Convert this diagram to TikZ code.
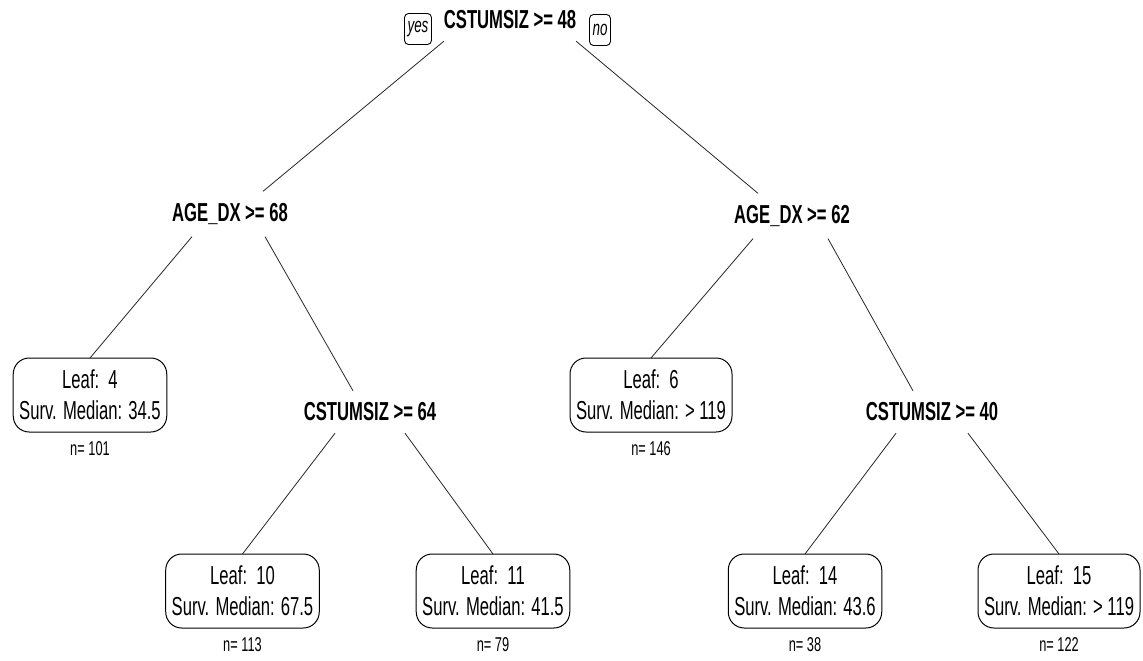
\documentclass[tikz,border=0pt]{standalone}
\usepackage{fontspec}
\setmainfont{Liberation Sans}[FakeStretch=0.64]
\usetikzlibrary{positioning}

\tikzset{
  split/.style={font=\fontsize{26}{29}\selectfont\bfseries, inner xsep=0pt, inner ysep=12pt},
  leaf/.style={draw, line width=1pt, rounded corners=16pt, align=center, inner xsep=6pt,
               minimum height=74pt, font=\fontsize{26}{31}\selectfont},
  count/.style={font=\fontsize{20}{22}\selectfont, inner sep=0pt},
  answer/.style={draw, line width=0.9pt, rounded corners=4pt, inner xsep=3pt, minimum height=31pt,
                 font=\fontsize{21}{22}\selectfont\itshape},
  branch/.style={draw=black!85, line width=0.8pt}
}

\begin{document}
\begin{tikzpicture}[x=1pt, y=-1pt, outer sep=0pt]
  \useasboundingbox (0,0) rectangle (1143,661);
    %
  % splits
  \node[split] (root) at (510, 20) {CSTUMSIZ >= 48};
  \node[answer] (yes) at (418, 29) {yes};
  \node[answer] (no) at (600, 30) {no};
  \node[split] (age1) at (230, 214) {AGE\_DX >= 68};
  \node[split] (age2) at (792, 216) {AGE\_DX >= 62};
  \node[split] (cs64) at (370, 412) {CSTUMSIZ >= 64};
  \node[split] (cs40) at (932, 412) {CSTUMSIZ >= 40};

  % leaves
  \node[leaf] (leaf4)  at (90, 395)    {Leaf:\ \ 4\\Surv. Median: 34.5};
  \node[leaf] (leaf6)  at (651, 395)   {Leaf:\ \ 6\\Surv. Median: > 119};
  \node[leaf] (leaf10) at (242.5, 591) {Leaf:\ \ 10\\Surv. Median: 67.5};
  \node[leaf] (leaf11) at (493, 591)   {Leaf:\ \ 11\\Surv. Median: 41.5};
  \node[leaf] (leaf14) at (805, 591)   {Leaf:\ \ 14\\Surv. Median: 43.6};
  \node[leaf] (leaf15) at (1059, 591)  {Leaf:\ \ 15\\Surv. Median: > 119};

  % counts under the leaves
  \node[count, below=10pt of leaf4]  (n4)  {n= 101};
  \node[count, below=10pt of leaf6]  (n6)  {n= 146};
  \node[count, below=10pt of leaf10] (n10) {n= 113};
  \node[count, below=10pt of leaf11] (n11) {n= 79};
  \node[count, below=10pt of leaf14] (n14) {n= 38};
  \node[count, below=10pt of leaf15] (n15) {n= 122};

  % branches
  \draw[branch] (root.south west) -- ([xshift=33pt]age1.north);
  \draw[branch] (root.south east) -- ([xshift=-34pt]age2.north);
  \draw[branch] ([xshift=-38pt]age1.south) -- (leaf4.north);
  \draw[branch] ([xshift=35pt]age1.south) -- ([xshift=-17pt]cs64.north);
  \draw[branch] ([xshift=-35pt]cs64.south) -- (leaf10.north);
  \draw[branch] ([xshift=35pt]cs64.south) -- (leaf11.north);
  \draw[branch] ([xshift=-39pt]age2.south) -- (leaf6.north);
  \draw[branch] ([xshift=36pt]age2.south) -- ([xshift=-19pt]cs40.north);
  \draw[branch] ([xshift=-36pt]cs40.south) -- (leaf14.north);
  \draw[branch] ([xshift=36pt]cs40.south) -- (leaf15.north);

\end{tikzpicture}
\end{document}
